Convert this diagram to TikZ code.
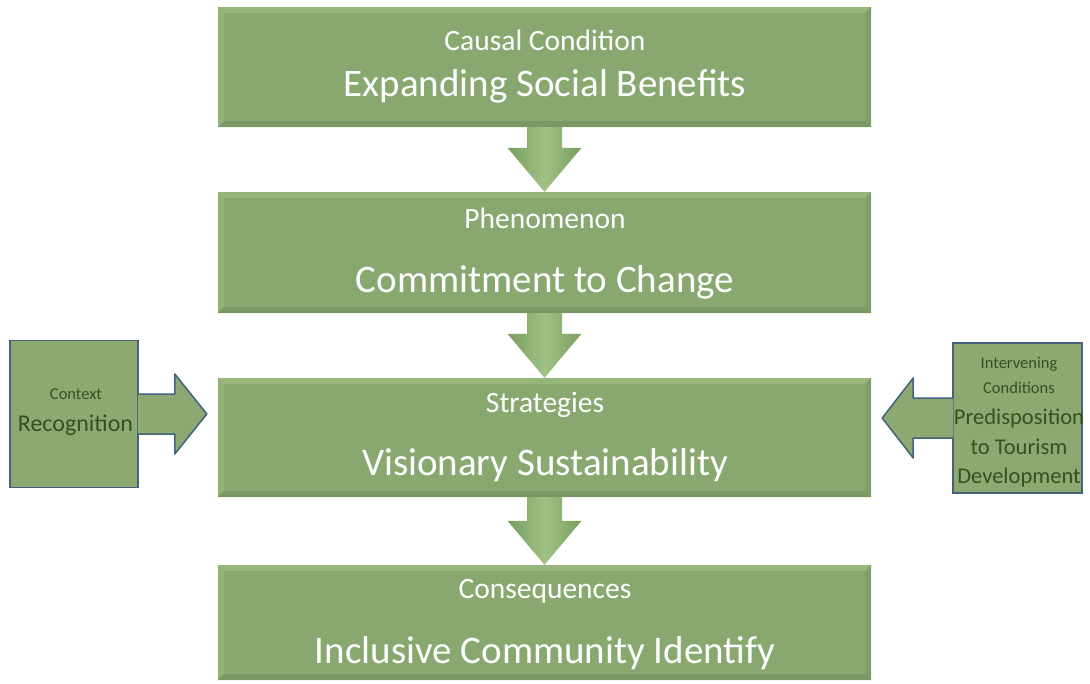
\documentclass[tikz,border=0pt]{standalone}
\usepackage{fontspec}
\setmainfont{Carlito}
\usetikzlibrary{calc}
\definecolor{boxgreen}{RGB}{136,168,112}
\definecolor{bevellight}{RGB}{150,182,124}
\definecolor{beveldark}{RGB}{122,152,98}
\definecolor{sidegreen}{RGB}{139,169,112}
\definecolor{sideborder}{RGB}{68,98,128}
\definecolor{sidetext}{RGB}{52,82,32}
\definecolor{arrowdark}{RGB}{120,158,96}
\definecolor{arrowlight}{RGB}{160,194,132}
\tikzset{
  mainbox/.style={fill=boxgreen, minimum width=653pt, inner sep=0pt,
    path picture={
      \fill[bevellight] (path picture bounding box.north west) -- (path picture bounding box.north east)
        -- ([shift={(-6pt,-6pt)}]path picture bounding box.north east) -- ([shift={(6pt,-6pt)}]path picture bounding box.north west) -- cycle;
      \fill[bevellight!70!boxgreen] (path picture bounding box.north west) -- ([shift={(6pt,-6pt)}]path picture bounding box.north west)
        -- ([shift={(6pt,6pt)}]path picture bounding box.south west) -- (path picture bounding box.south west) -- cycle;
      \fill[beveldark] (path picture bounding box.south west) -- ([shift={(6pt,6pt)}]path picture bounding box.south west)
        -- ([shift={(-6pt,6pt)}]path picture bounding box.south east) -- (path picture bounding box.south east) -- cycle;
      \fill[beveldark!60!boxgreen] (path picture bounding box.north east) -- ([shift={(-6pt,-6pt)}]path picture bounding box.north east)
        -- ([shift={(-6pt,6pt)}]path picture bounding box.south east) -- (path picture bounding box.south east) -- cycle;
    }},
  sidebox/.style={fill=sidegreen, draw=sideborder, line width=1.5pt, inner sep=0pt},
  maintitle/.style={anchor=base, text=white, font=\fontsize{29.5}{35}\selectfont},
  mainname/.style={anchor=base, text=white, font=\fontsize{39}{46}\selectfont},
  sidetitle/.style={anchor=base, text=sidetext, font=\fontsize{16.5}{20}\selectfont},
  sidename/.style={anchor=base, text=sidetext, font=\fontsize{22.5}{27}\selectfont},
  % block arrows between the boxes
  downarrow/.style={left color=arrowdark, right color=arrowdark, middle color=arrowlight,
    to path={let \p1=(\tikztostart.south), \p2=(\tikztotarget.north) in
      (\x1-17.5pt,\y1) -- (\x1-17.5pt,\y2+44pt) -- (\x1-37pt,\y2+44pt) -- (\x1,\y2)
      -- (\x1+37pt,\y2+44pt) -- (\x1+17.5pt,\y2+44pt) -- (\x1+17.5pt,\y1) -- cycle}},
  pushright/.style={fill=sidegreen, draw=sideborder, line width=1.5pt, line join=round,
    to path={let \p1=(\tikztostart.east), \p2=(\tikztotarget.west) in
      (\x1-1pt,\y1+20pt) -- (\x2-43pt,\y1+20pt) -- (\x2-43pt,\y1+40pt) -- (\x2-11pt,\y1)
      -- (\x2-43pt,\y1-40pt) -- (\x2-43pt,\y1-20pt) -- (\x1-1pt,\y1-20pt)}},
  pushleft/.style={fill=sidegreen, draw=sideborder, line width=1.5pt, line join=round,
    to path={let \p1=(\tikztostart.west), \p2=(\tikztotarget.east) in
      (\x1+1pt,\y1+20pt) -- (\x2+42pt,\y1+20pt) -- (\x2+42pt,\y1+40pt) -- (\x2+11pt,\y1)
      -- (\x2+42pt,\y1-40pt) -- (\x2+42pt,\y1-20pt) -- (\x1+1pt,\y1-20pt)}},
}
\begin{document}
\begin{tikzpicture}[x=1pt, y=-1pt]
\path[use as bounding box, fill=white] (0,0) rectangle (1090,683);
% main chain
\node[mainbox, minimum height=120pt] (cause) at (544.5,67) {};
\node[mainbox, minimum height=121pt] (phenom) at (544.5,252.5) {};
\node[mainbox, minimum height=119pt] (strat) at (544.5,437.5) {};
\node[mainbox, minimum height=115pt] (conseq) at (544.5,622.5) {};
\path[downarrow] (cause) to (phenom);
\path[downarrow] (phenom) to (strat);
\path[downarrow] (strat) to (conseq);
\node[maintitle] (causet) at (545,50) {Causal Condition};
\node[mainname] (causen) at (545,96) {Expanding Social Benefits};
\node[maintitle] (phenomt) at (545,228) {Phenomenon};
\node[mainname] (phenomn) at (545,292) {Commitment to Change};
\node[maintitle] (stratt) at (545,412) {Strategies};
\node[mainname] (stratn) at (545,475) {Visionary Sustainability};
\node[maintitle] (conseqt) at (545,598) {Consequences};
\node[mainname] (conseqn) at (545,663) {Inclusive Community Identify};
% side conditions
\node[sidebox, minimum width=128pt, minimum height=147pt] (context) at (74,414) {};
\node[sidebox, minimum width=129pt, minimum height=150pt] (interv) at (1017.5,418) {};
\path[pushright] (context) to (strat);
\path[pushleft] (interv) to (strat);
\node[sidetitle] (contextt) at (76,399) {Context};
\node[sidename, font=\fontsize{24}{29}\selectfont] (contextn) at (75.5,431) {Recognition};
\node[sidetitle] (intervt1) at (1019,368) {Intervening};
\node[sidetitle] (intervt2) at (1019,393) {Conditions};
\node[sidename] (intervn1) at (1019,424) {Predisposition};
\node[sidename] (intervn2) at (1019,454) {to Tourism};
\node[sidename] (intervn3) at (1019,483) {Development};
\end{tikzpicture}
\end{document}
